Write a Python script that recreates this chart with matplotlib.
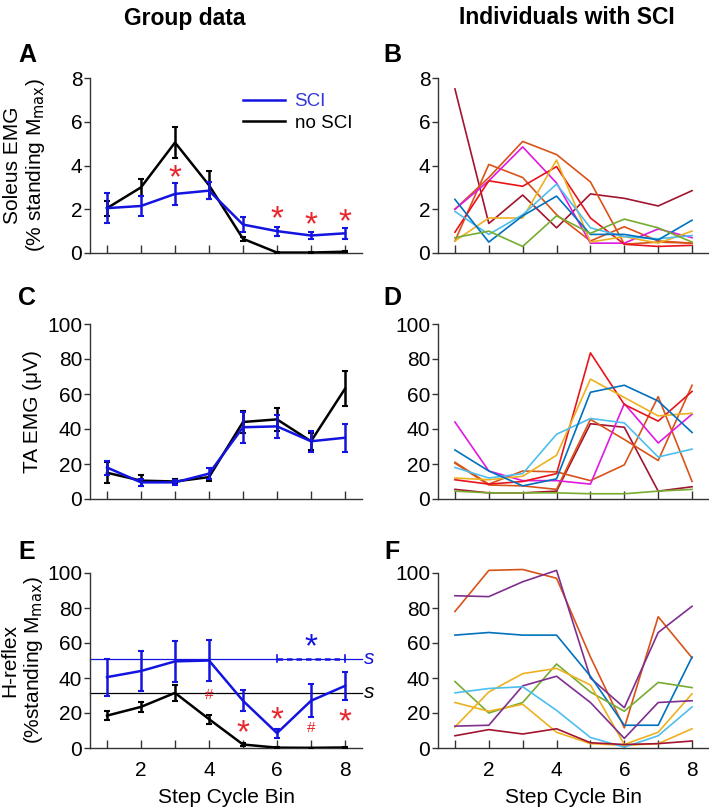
import matplotlib
matplotlib.use("Agg")
import matplotlib.pyplot as plt
from matplotlib.lines import Line2D
import numpy as np

plt.rcParams['font.family'] = ['Liberation Sans', 'DejaVu Sans']

bins = np.arange(1, 9)

# --- group data ---
sol_sci = [2.05, 2.15, 2.7, 2.85, 1.3, 1.0, 0.8, 0.9]
sol_sci_err = [0.7, 0.45, 0.5, 0.38, 0.33, 0.2, 0.15, 0.25]
sol_no = [2.05, 3.0, 5.05, 3.1, 0.65, 0.02, 0.02, 0.06]
sol_no_err = [0.35, 0.4, 0.7, 0.65, 0.08, 0.02, 0.02, 0.03]

ta_sci = [18, 9.5, 9.5, 14.5, 41, 41.5, 33, 35]
ta_sci_err = [4, 2, 1.5, 3, 9, 6.5, 6, 8]
ta_no = [15, 10.5, 10, 12.5, 44, 45.5, 33, 63]
ta_no_err = [6, 3, 1.5, 2, 6.5, 6.5, 5, 10]

h_sci = [40.5, 44, 49.5, 50, 27, 8.5, 27, 35.5]
h_sci_err = [10.5, 11.5, 11.5, 11.5, 6, 2.5, 9.5, 8]
h_no = [18.5, 23.5, 31.5, 16.5, 2, 0.2, 0.1, 0.3]
h_no_err = [2.5, 3, 4.5, 2.5, 0.6, 0.1, 0.1, 0.1]
h_sci_standing = 51
h_no_standing = 31.5

# --- individuals with SCI ---
ind_colors = ['#A2142F', '#D95319', '#D95319', '#E019E0', '#E8141C',
              '#EDB120', '#4DBEEE', '#0072BD', '#77AC30']
sol_ind = [
    [7.5, 1.35, 2.65, 1.15, 2.7, 2.5, 2.15, 2.85],
    [2.0, 3.45, 5.1, 4.5, 3.25, 0.4, 0.5, 0.45],
    [0.55, 4.05, 3.45, 1.75, 0.55, 1.2, 0.55, 0.45],
    [2.0, 3.3, 4.85, 3.2, 0.45, 0.45, 1.1, 0.7],
    [0.95, 3.3, 3.05, 3.95, 1.6, 0.4, 0.3, 0.35],
    [0.55, 1.6, 1.6, 4.25, 0.5, 0.75, 0.45, 1.0],
    [1.9, 0.85, 1.75, 3.15, 1.15, 0.75, 0.65, 0.8],
    [2.45, 0.5, 1.7, 2.6, 0.85, 0.85, 0.6, 1.5],
    [0.7, 1.0, 0.3, 1.7, 0.9, 1.55, 1.15, 0.5],
]
ta_ind = [
    [5.5, 3.5, 3.5, 4.5, 43, 41, 4.5, 7],
    [21, 8.5, 16, 15.5, 10.5, 19.5, 58.5, 10],
    [20.5, 8, 7.5, 5.5, 45.5, 34, 22, 65],
    [44, 16, 10.5, 10.5, 8.5, 54.5, 32, 48.5],
    [11, 8.5, 10, 14.5, 83.5, 54, 44.5, 61.5],
    [12, 11, 13, 25, 68.5, 58, 47.5, 49],
    [18, 12, 14.5, 37, 46, 43.5, 24, 28.5],
    [28, 16, 7.5, 11.5, 61, 65, 56, 38],
    [4.5, 3.5, 3.5, 3.5, 3, 3, 4.5, 5.5],
]
h_ind_colors = ['#D95319', '#7E2F8E', '#0072BD', '#77AC30', '#EDB120',
                '#EDB120', '#7E2F8E', '#4DBEEE', '#A2142F']
h_ind = [
    [78, 101.5, 102, 97, 52, 11.5, 75, 51.5],
    [87, 86.5, 95, 101.5, 40, 23, 66, 81],
    [64.5, 66, 64.5, 64.5, 41, 13, 13, 52],
    [38, 20, 26, 48, 32, 21, 37.5, 34.5],
    [12, 32, 42.5, 45.5, 36, 2, 9, 31],
    [26, 21, 25, 9, 2.5, 1.5, 2.5, 11],
    [12.5, 13, 35.5, 41, 26, 5.5, 26, 27],
    [31.5, 34, 35, 21.5, 6, 0.5, 7, 23.5],
    [7, 10.5, 8, 11, 3, 2, 2.5, 4],
]

W, H = 709, 809
fig = plt.figure(figsize=(W / 100, H / 100), dpi=100)

def make_ax(left, top, width=272, height=175):
    return fig.add_axes([left / W, 1 - (top + height) / H, width / W, height / H])

axA = make_ax(90, 78)
axB = make_ax(438, 78, 271)
axC = make_ax(90, 324)
axD = make_ax(438, 324, 271)
axE = make_ax(90, 573)
axF = make_ax(438, 573, 271)

BLUE = '#1414E0'
RED = '#E8262C'

for ax in [axA, axB, axC, axD, axE, axF]:
    ax.set_xlim(0.5, 8.5)
    ax.spines['top'].set_visible(False)
    ax.spines['right'].set_visible(False)
    for s in ['left', 'bottom']:
        ax.spines[s].set_color('#333333')
        ax.spines[s].set_linewidth(1.0)
    ax.set_xticks(bins)
    ax.tick_params(axis='x', direction='in', length=6, width=1, colors='#333333',
                   labelcolor='black', labelsize=15, pad=9)
    ax.tick_params(axis='y', direction='out', length=4, width=1, colors='#333333',
                   labelcolor='black', labelsize=15, pad=1.5)

for ax in [axA, axB, axC, axD]:
    ax.set_xticklabels([])
for ax in [axE, axF]:
    ax.set_xticklabels(['' if b % 2 else str(b) for b in bins])
    ax.set_xlabel('Step Cycle Bin', fontsize=15, labelpad=6)

for ax in [axA, axB]:
    ax.set_ylim(0, 8)
    ax.set_yticks([0, 2, 4, 6, 8])
for ax in [axC, axD, axE, axF]:
    ax.set_ylim(0, 100)
    ax.set_yticks([0, 20, 40, 60, 80, 100])

def group_plot(ax, sci, sci_err, no, no_err):
    ax.errorbar(bins, no, yerr=no_err, color='black', lw=1.8, elinewidth=1.8,
                capsize=2.5, capthick=1.5, zorder=3)
    ax.errorbar(bins, sci, yerr=sci_err, color=BLUE, lw=1.8, elinewidth=1.8,
                capsize=2.5, capthick=1.5, zorder=4)

# A
group_plot(axA, sol_sci, sol_sci_err, sol_no, sol_no_err)
for x, y in [(3, 3.38), (6, 1.5), (7, 1.26), (8, 1.4)]:
    axA.text(x, y, '*', color=RED, fontsize=24, ha='center', va='center')
axA.set_ylabel('Soleus EMG\n(% standing M$_{\\rm max}$)', fontsize=15,
               linespacing=1.1)
axA.yaxis.set_label_coords(-0.158, 0.5)
handles = [Line2D([], [], color=BLUE, lw=1.8), Line2D([], [], color='black', lw=1.8)]
leg = axA.legend(handles, ['SCI', 'no SCI'], loc='upper left', bbox_to_anchor=(0.535, 0.955),
                 frameon=False, fontsize=13.5, handlelength=2.25, handletextpad=0.5,
                 labelspacing=0.22, borderaxespad=0)
leg.get_texts()[0].set_color('#3535DD')

# B
for c, vals in zip(ind_colors, sol_ind):
    axB.plot(bins, vals, color=c, lw=1.2)

# C
group_plot(axC, ta_sci, ta_sci_err, ta_no, ta_no_err)
axC.set_ylabel('TA EMG (\u03bcV)', fontsize=15)
axC.yaxis.set_label_coords(-0.176, 0.5)

# D
for c, vals in zip(ind_colors, ta_ind):
    axD.plot(bins, vals, color=c, lw=1.2)

# E
axE.axhline(h_sci_standing, xmin=0, xmax=1.0, color=BLUE, lw=0.9, clip_on=False)
axE.axhline(h_no_standing, xmin=0, xmax=1.0, color='black', lw=0.9, clip_on=False)
axE.text(8.55, h_sci_standing, 's', color=BLUE, style='italic', fontsize=15, va='center')
axE.text(8.55, h_no_standing, 's', color='black', style='italic', fontsize=15, va='center')
axE.plot([6, 8], [h_sci_standing, h_sci_standing], color=BLUE, lw=1.8, ls=(0, (2.2, 1.6)))
axE.plot([6, 6], [h_sci_standing - 2, h_sci_standing + 2], color=BLUE, lw=1.2)
axE.plot([8, 8], [h_sci_standing - 2, h_sci_standing + 2], color=BLUE, lw=1.2)
axE.text(7, 57, '*', color=BLUE, fontsize=24, ha='center', va='center')
group_plot(axE, h_sci, h_sci_err, h_no, h_no_err)
for x, y in [(5, 8), (6, 15.5), (8, 14.5)]:
    axE.text(x, y, '*', color=RED, fontsize=24, ha='center', va='center')
for x, y in [(4, 30.5), (7, 11.5)]:
    axE.text(x, y, '#', color=RED, fontsize=11, ha='center', va='center')
axE.set_ylabel('H-reflex\n(%standing M$_{\\rm max}$)', fontsize=15,
               linespacing=1.15)
axE.yaxis.set_label_coords(-0.165, 0.5)

# F
for c, vals in zip(h_ind_colors, h_ind):
    axF.plot(bins, vals, color=c, lw=1.2, clip_on=False)

# column titles and panel letters
title_font = ['Liberation Sans Narrow', 'Liberation Sans', 'DejaVu Sans']
fig.text(185 / W, 1 - 18 / H, 'Group data', fontsize=16.5, fontweight='bold',
         ha='center', va='center', family=title_font)
fig.text(567 / W, 1 - 18 / H, 'Individuals with SCI', fontsize=16.5, fontweight='bold',
         ha='center', va='center', family=title_font)
for lab, x, y in [('A', 27, 55), ('B', 392, 55), ('C', 27, 298),
                  ('D', 392, 298), ('E', 27, 552), ('F', 392, 552)]:
    fig.text(x / W, 1 - y / H, lab, fontsize=18, fontweight='bold',
             ha='center', va='center')

fig.savefig('out.png', dpi=100)
